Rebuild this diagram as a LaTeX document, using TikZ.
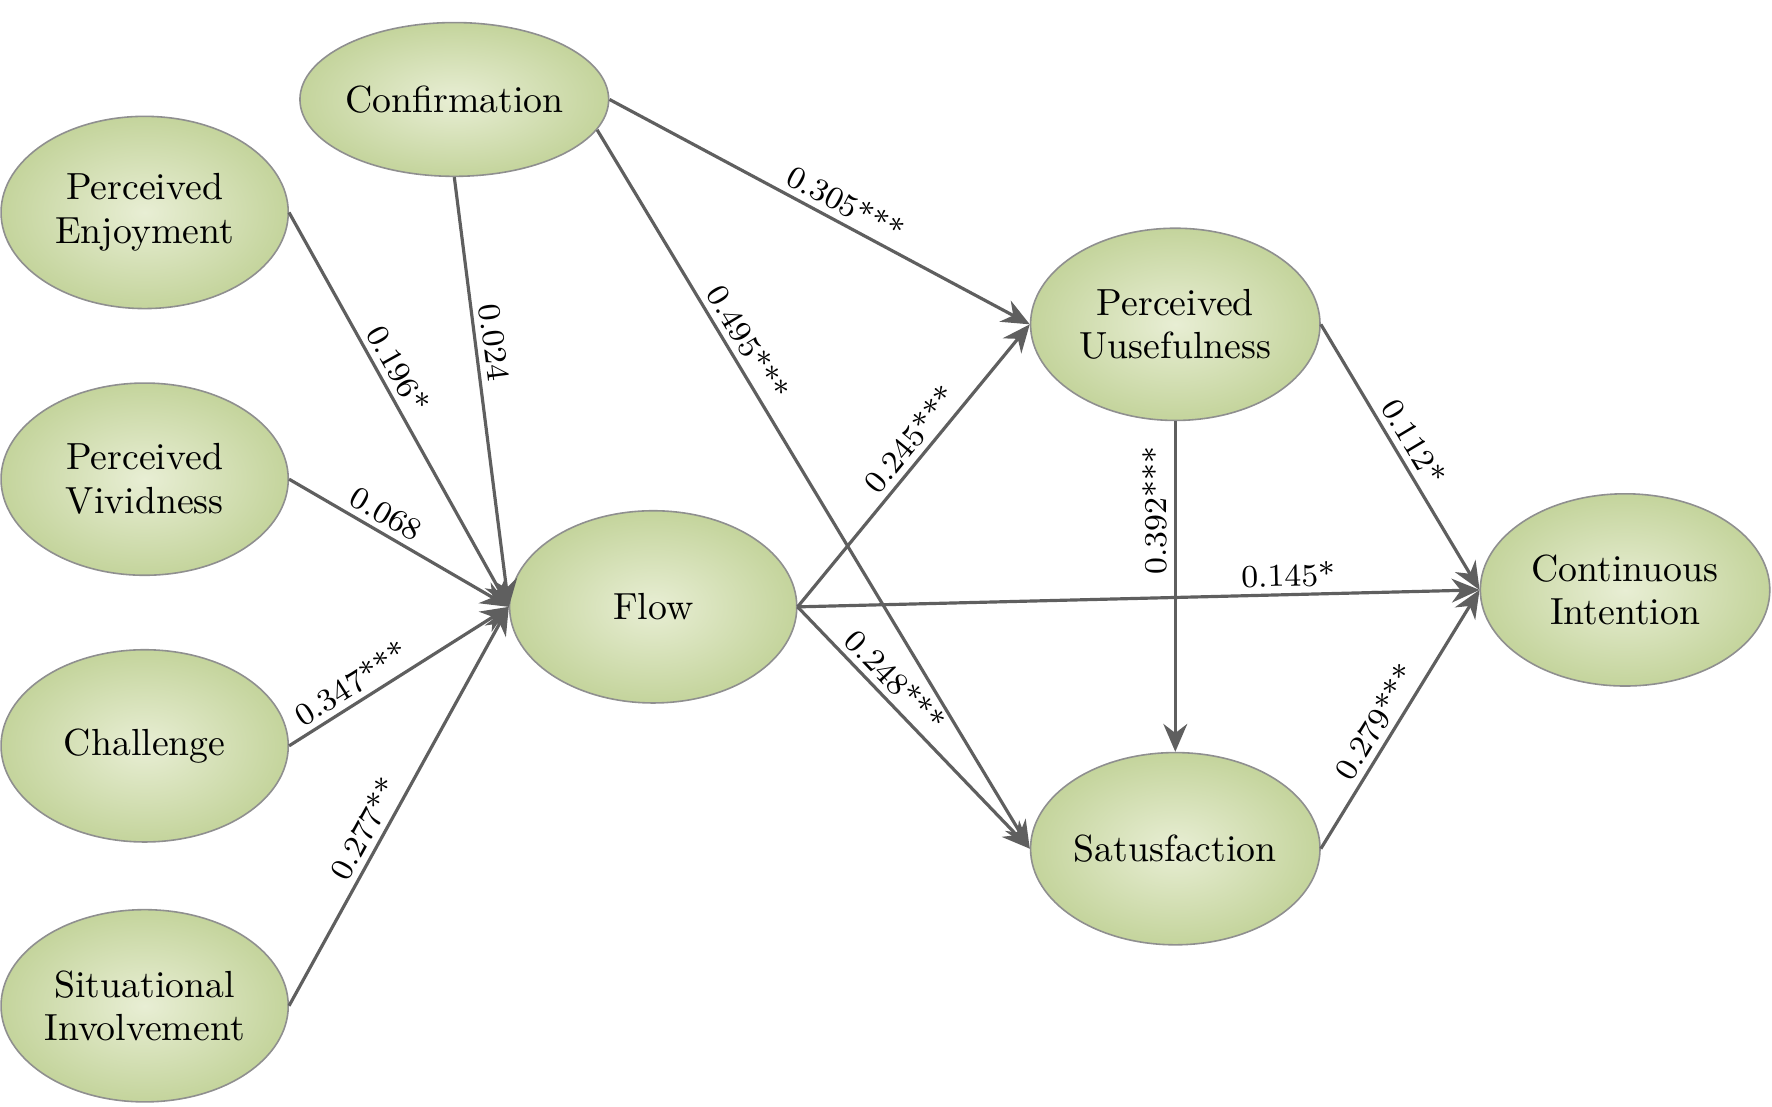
\documentclass[tikz,border=0pt]{standalone}
\usetikzlibrary{shapes.geometric,arrows.meta}
\definecolor{lineGray}{RGB}{95,95,95}
\definecolor{fillIn}{RGB}{232,238,212}
\definecolor{fillOut}{RGB}{196,212,156}
\tikzset{
  construct/.style={ellipse, draw=lineGray!70, inner color=fillIn, outer color=fillOut, inner sep=0pt,
    minimum width=2.54cm, minimum height=1.7cm, align=center, font=\fontsize{9.5}{11}\selectfont},
  path/.style={draw=lineGray, thick, -{Stealth[length=7pt,width=6pt]}},
  coef/.style={sloped, above, inner sep=1.5pt, font=\fontsize{8}{9}\selectfont}
}
\begin{document}
\begin{tikzpicture}[x=0.01cm, y=-0.01cm]
   \useasboundingbox (0,0) rectangle (1568,979);
   \node[construct, minimum width=2.56cm, minimum height=1.36cm] (Conf) at (402,88)  {Confirmation};
   \node[construct] (Enj)  at (128,188) {Perceived\\Enjoyment};
   \node[construct] (Viv)  at (128,424) {Perceived\\Vividness};
   \node[construct] (Chal) at (128,660) {Challenge};
   \node[construct] (Inv)  at (128,890) {Situational\\Involvement};
   \node[construct] (Flow) at (578,537) {Flow};
   \node[construct, minimum width=2.56cm] (PU)   at (1040,287) {Perceived\\Uusefulness};
   \node[construct, minimum width=2.56cm] (Sat)  at (1040,751) {Satusfaction};
   \node[construct, minimum width=2.56cm] (CI)   at (1438,522) {Continuous\\Intention};
   % paths into flow
   \draw[path] (Enj.east)   -- node[coef, pos=0.42] {0.196*}   (Flow.west);
   \draw[path] (Conf.south) -- node[coef, pos=0.39] {0.024}    (Flow.west);
   \draw[path] (Viv.east)   -- node[coef, pos=0.40] {0.068}    (Flow.west);
   \draw[path] (Chal.east)  -- node[coef, pos=0.33] {0.347***} (Flow.west);
   \draw[path] (Inv.east)   -- node[coef, pos=0.42] {0.277**}  (Flow.west);
   % paths out of confirmation and flow
   \draw[path] (Conf.east)  -- node[coef, pos=0.54] {0.305***} (PU.west);
   \draw[path] (Conf.-12)   -- node[coef, pos=0.31] {0.495***} (Sat.west);
   \draw[path] (Flow.east)  -- node[coef, pos=0.55] {0.245***} (PU.west);
   \draw[path] (Flow.east)  -- node[coef, pos=0.36] {0.248***} (Sat.west);
   \draw[path] (Flow.east)  -- node[coef, pos=0.72] {0.145*}   (CI.west);
   % outcomes
   \draw[path] (PU.south) -- (Sat.north);
   \node[rotate=90, font=\fontsize{8}{9}\selectfont] (l392) at (1022,452) {0.392***};
   \draw[path] (PU.east)  -- node[coef, pos=0.48] {0.112*}   (CI.west);
   \draw[path] (Sat.east) -- node[coef, pos=0.45] {0.279***} (CI.west);
\end{tikzpicture}
\end{document}
